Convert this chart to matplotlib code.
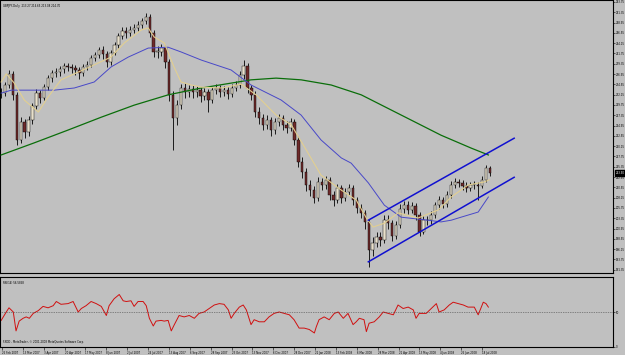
import numpy as np
import matplotlib
matplotlib.use("Agg")
import matplotlib.pyplot as plt

# GBPJPY daily, resampled to one candle per ~3 sessions (Feb 2007 - Jul 2008)
close = [232.5, 234.4, 237.0, 232.1, 221.6, 225.8, 223.4, 226.2, 229.5, 232.5,
         231.4, 233.9, 236.0, 237.2, 237.4, 238.1, 238.8, 238.6, 238.4, 237.9,
         237.2, 238.6, 239.1, 240.7, 241.4, 242.6, 241.6, 239.8, 241.9, 243.7,
         245.8, 247.0, 246.5, 247.2, 247.7, 248.4, 249.3, 250.2, 246.5, 242.1,
         242.1, 243.0, 239.8, 232.1, 226.7, 229.7, 233.7, 232.8, 233.5, 232.8,
         233.2, 231.8, 232.8, 230.9, 233.2, 233.7, 232.8, 233.2, 232.3, 233.7,
         234.4, 236.7, 238.8, 233.7, 232.1, 228.1, 226.7, 225.1, 226.2, 223.9,
         225.8, 226.7, 225.1, 224.4, 225.8, 221.6, 216.5, 214.1, 211.1, 209.9,
         208.1, 211.8, 211.1, 212.3, 208.8, 207.6, 210.4, 208.1, 209.5, 210.4,
         207.6, 205.7, 204.6, 202.5, 196.0, 197.6, 199.0, 198.3, 202.9, 202.2,
         199.2, 201.8, 205.5, 206.4, 205.3, 206.2, 204.1, 200.1, 202.9, 202.9,
         204.1, 206.4, 207.6, 206.7, 208.8, 211.1, 211.8, 211.6, 210.9, 210.4,
         211.1, 211.1, 210.9, 212.3, 215.1, 213.9]
high = [233.6, 235.2, 237.9, 237.6, 232.8, 226.9, 226.5, 227.1, 230.3, 233.4,
        233.3, 234.6, 236.7, 238.0, 238.3, 238.9, 239.6, 239.5, 239.4, 239.0,
        238.5, 239.3, 239.9, 241.5, 242.2, 243.3, 243.4, 242.3, 242.6, 244.5,
        246.6, 247.8, 247.9, 248.1, 248.6, 249.2, 250.1, 251.1, 250.9, 247.2,
        243.5, 244.0, 243.8, 240.5, 233.0, 230.8, 234.6, 234.8, 234.5, 234.3,
        234.1, 233.9, 233.6, 233.5, 234.0, 234.6, 234.5, 234.1, 234.0, 234.6,
        235.3, 237.6, 240.2, 239.5, 234.4, 232.9, 229.2, 227.6, 227.3, 227.0,
        226.7, 227.6, 227.5, 226.0, 226.8, 226.5, 222.4, 217.6, 215.0, 212.2,
        210.8, 212.9, 212.7, 213.3, 213.0, 209.6, 211.3, 211.1, 210.4, 211.4,
        211.0, 208.4, 206.6, 205.3, 203.2, 198.9, 200.1, 200.2, 204.0, 204.1,
        202.9, 202.8, 206.6, 207.3, 207.4, 207.2, 207.0, 204.8, 203.9, 203.9,
        205.0, 207.2, 208.5, 208.4, 209.7, 212.0, 212.7, 212.6, 212.3, 211.7,
        211.9, 212.0, 211.8, 213.1, 215.8, 215.5]
low = [231.4, 231.9, 233.8, 231.0, 220.4, 220.8, 222.0, 222.6, 225.4, 228.9,
       230.2, 230.8, 233.2, 235.1, 236.3, 236.6, 237.3, 237.7, 237.2, 236.8,
       235.9, 236.5, 237.8, 238.6, 239.9, 240.8, 240.5, 238.6, 239.1, 241.3,
       243.0, 245.1, 245.4, 245.7, 246.4, 247.0, 247.6, 248.7, 245.6, 240.9,
       240.6, 241.2, 238.4, 230.6, 219.3, 225.0, 228.8, 231.3, 231.6, 231.4,
       231.7, 230.5, 230.9, 228.1, 230.1, 232.4, 231.7, 231.9, 231.2, 231.6,
       232.9, 233.8, 235.9, 232.6, 230.8, 226.9, 225.3, 223.8, 224.2, 222.6,
       223.0, 224.9, 224.0, 223.1, 223.6, 220.4, 215.2, 212.7, 209.8, 208.6,
       206.9, 207.3, 209.9, 210.2, 207.5, 206.2, 206.8, 207.0, 207.3, 208.7,
       206.5, 204.6, 203.4, 200.9, 192.0, 194.6, 196.7, 197.0, 197.6, 200.9,
       198.0, 198.5, 201.0, 204.6, 204.3, 204.5, 203.0, 199.3, 199.6, 201.8,
       202.1, 203.5, 205.6, 205.7, 205.9, 208.1, 210.3, 210.6, 210.0, 209.5,
       209.6, 210.2, 207.6, 210.3, 211.8, 213.1]

# moving averages, read at sample points (candle index, price)
ma_fast_x = [0, 1.3, 3.3, 5.9, 9.5, 12.0, 15.3, 19.7, 23.8, 28.1, 31.5, 35.8, 37.6,
             39.1, 41.7, 44.2, 46.0, 48.6, 51.2, 56.3, 61.4, 65.2, 70.3, 74.2, 78.0,
             81.8, 87.0, 90.8, 93.4, 95.1, 98.0, 101.5, 106.6, 111.8, 115.1, 119.4,
             123.5, 124.8]
ma_fast = [235.1, 237.0, 234.9, 230.9, 228.1, 231.6, 235.6, 237.4, 239.1, 240.9, 244.2,
           247.2, 247.7, 245.6, 244.2, 238.6, 235.1, 234.4, 233.9, 233.7, 234.6, 232.1,
           227.4, 225.1, 219.3, 213.4, 209.9, 207.6, 203.4, 201.3, 202.2, 204.6, 203.4,
           205.3, 208.3, 211.1, 211.8, 212.3]
ma_mid_x = [0, 2.6, 8.4, 13.6, 18.7, 23.8, 28.1, 32.5, 37.6, 42.7, 46.0, 51.2, 58.8,
            63.9, 71.6, 76.7, 81.8, 87.0, 89.5, 93.9, 98.0, 102.3, 109.2, 112.5, 115.1,
            117.6, 122.0, 124.6]
ma_mid = [232.5, 233.2, 233.2, 233.2, 233.7, 235.1, 238.6, 240.9, 243.0, 243.2, 242.1,
          240.2, 237.9, 234.4, 230.9, 227.4, 221.6, 217.4, 216.2, 211.6, 206.4, 203.6,
          202.9, 202.5, 202.9, 203.6, 204.8, 208.3]
ma_slow_x = [0, 8.4, 17.1, 25.6, 34.0, 42.7, 51.2, 63.9, 70.3, 76.7, 84.4, 92.1,
             102.3, 112.5, 120.2, 124.6]
ma_slow = [218.1, 220.9, 223.9, 226.9, 229.7, 232.1, 233.7, 235.6, 236.0, 235.6, 234.4,
           232.1, 227.4, 222.7, 219.7, 218.1]

# hand drawn channel
chan_x = [93.9, 131.2]
chan_upper = [202.9, 222.0]
chan_lower = [193.2, 212.9]

# RSI(14)
rsi_x = [0, 1.3, 2.0, 3.1, 3.8, 4.6, 5.6, 6.4, 7.2, 8.2, 9.5, 10.7, 12.0, 13.3, 14.1,
         15.3, 17.1, 18.4, 19.7, 20.5, 21.7, 23.0, 24.3, 25.6, 26.9, 27.6, 28.9, 30.2,
         31.2, 32.0, 33.2, 34.0, 35.0, 36.3, 37.1, 37.9, 38.9, 39.6, 40.9, 41.7, 42.7,
         43.5, 44.2, 45.5, 46.8, 48.1, 49.4, 50.6, 51.9, 53.2, 54.5, 55.8, 57.0, 58.1,
         58.8, 59.6, 60.9, 61.9, 62.7, 63.9, 64.7, 66.0, 67.3, 68.5, 69.8, 71.1, 72.4,
         73.7, 74.9, 76.2, 77.5, 78.8, 80.1, 80.6, 81.3, 82.6, 83.9, 85.2, 86.2, 87.5,
         88.7, 90.0, 90.8, 91.6, 92.8, 93.4, 94.1, 95.4, 96.7, 97.7, 99.0, 100.3, 101.5,
         102.8, 104.1, 105.4, 106.1, 106.9, 108.7, 110.0, 111.3, 112.0, 113.3, 114.6,
         115.6, 116.9, 118.2, 119.4, 121.0, 122.0, 122.8, 123.3, 124.0, 124.6]
rsi = [38, 50, 56, 50, 23, 37, 41, 43, 41, 48, 52, 58, 56, 59, 65,
       61, 62, 65, 50, 55, 59, 65, 62, 58, 45, 59, 69, 75,
       66, 65, 66, 58, 65, 65, 59, 41, 30, 37, 38, 37, 38,
       23, 31, 45, 43, 45, 41, 48, 50, 55, 60, 62, 61, 53,
       41, 48, 57, 60, 53, 32, 39, 36, 36, 43, 48, 50, 48,
       46, 39, 27, 27, 25, 20, 29, 39, 43, 39, 48, 50, 41,
       48, 32, 36, 41, 39, 22, 34, 36, 43, 50, 48, 46, 60,
       55, 57, 53, 41, 48, 48, 55, 62, 50, 53, 60,
       64, 62, 60, 57, 57, 46, 57, 64, 62, 57]

date_labels = ["26 Feb 2007", "13 Mar 2007", "3 Apr 2007", "20 Apr 2007", "17 May 2007",
               "8 Jun 2007", "2 Jul 2007", "24 Jul 2007", "13 Aug 2007", "6 Sep 2007",
               "28 Sep 2007", "23 Oct 2007", "13 Nov 2007", "6 Dec 2007", "28 Dec 2007",
               "22 Jan 2008", "13 Feb 2008", "6 Mar 2008", "28 Mar 2008", "21 Apr 2008",
               "13 May 2008", "4 Jun 2008", "26 Jun 2008", "18 Jul 2008"]

BG = "#c0c0c0"
FS = 1.9
W, H = 625, 355
fig = plt.figure(figsize=(W / 100, H / 100), dpi=100, facecolor=BG)
ax = fig.add_axes([0, 1 - 273 / H, 613 / W, 273 / H], facecolor=BG)
rx = fig.add_axes([0, 1 - 347 / H, 613 / W, 70 / H], facecolor=BG)

close = np.array(close)
high = np.array(high)
low = np.array(low)
opens = np.r_[close[0], close[:-1]]
idx = np.arange(len(close))
up = close >= opens

ax.vlines(idx, low, high, color="black", lw=0.6, zorder=2)
body = np.maximum(np.abs(close - opens), 0.15)
ax.bar(idx[up], body[up], bottom=opens[up], width=0.6, color="#e8e0cc",
       edgecolor="black", lw=0.3, zorder=3)
ax.bar(idx[~up], body[~up], bottom=close[~up], width=0.6, color="#6e2a2a",
       edgecolor="black", lw=0.3, zorder=3)

ax.plot(ma_slow_x, ma_slow, color="#0a6e0a", lw=0.9, zorder=4)
ax.plot(ma_mid_x, ma_mid, color="#4848c8", lw=0.7, zorder=4)
ax.plot(ma_fast_x, ma_fast, color="#e2cf90", lw=0.8, zorder=4)
ax.plot(chan_x, chan_upper, color="#1010d0", lw=1.1, zorder=5)
ax.plot(chan_x, chan_lower, color="#1010d0", lw=1.1, zorder=5)

xmin = -0.3
xmax = xmin + 613 / 3.91
ax.set_xlim(xmin, xmax)
ax.set_ylim(190.6, 254.2)
ax.set_xticks([])
levels = [253.75 - 2.40 * k for k in range(27)]
ax.yaxis.tick_right()
ax.set_yticks(levels)
ax.set_yticklabels([f"{v:.2f}" for v in levels], fontsize=FS)
ax.tick_params(axis="y", length=1.5, width=0.4, pad=0.6)

last = close[-1]
ax.annotate(f"{last:.2f}", xy=(1.0, last), xycoords=("axes fraction", "data"),
            xytext=(1.8, 0), textcoords="offset points", fontsize=FS, color="white",
            va="center", ha="left", zorder=10, annotation_clip=False,
            bbox=dict(boxstyle="square,pad=0.2", fc="black", ec="black"))

rx.plot(rsi_x, rsi, color="#d01010", lw=0.7)
rx.axhline(50, color="#404040", lw=0.5, ls=(0, (1, 1.5)))
rx.set_xlim(xmin, xmax)
rx.set_ylim(0, 100)
rx.yaxis.tick_right()
rx.set_yticks([0, 50])
rx.set_yticklabels(["0", "50"], fontsize=FS)
rx.tick_params(axis="y", length=1.5, width=0.4, pad=0.6)
tick_pos = [(2 + 20.87 * k) / 3.91 + xmin for k in range(len(date_labels))]
rx.set_xticks(tick_pos)
rx.set_xticklabels(date_labels, fontsize=FS, ha="left")
rx.tick_params(axis="x", length=2, width=0.4, pad=1)

for a in (ax, rx):
    for s in a.spines.values():
        s.set_color("black")
        s.set_linewidth(0.8)

fig.text(3 / W, 1 - 6 / H, "GBPJPY,Daily  213.27 214.65 213.08 214.70", fontsize=FS,
         va="center", ha="left")
fig.text(3 / W, 1 - 283 / H, "RSI(14) 56.5858", fontsize=FS, va="center", ha="left")
fig.text(3 / W, 1 - 342 / H, "FXDD - MetaTrader, \u00a9 2001-2008 MetaQuotes Software Corp.",
         fontsize=FS, va="center", ha="left")

fig.savefig("out.png", dpi=100, facecolor=BG)
